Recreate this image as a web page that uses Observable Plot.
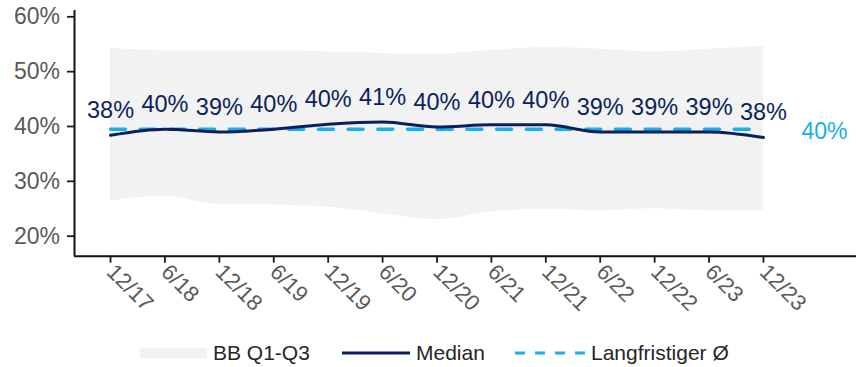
<!DOCTYPE html>
<html>
<head>
<meta charset="utf-8">
<script src="https://cdn.jsdelivr.net/npm/d3@7"></script>
<script src="https://cdn.jsdelivr.net/npm/@observablehq/plot@0.6"></script>
<style>
  html, body { margin: 0; padding: 0; background: #fff; }
  body { width: 856px; height: 367px; position: relative; overflow: hidden; font-family: "Liberation Sans", Arial, sans-serif; }
  #legend { position: absolute; left: 0; top: 336px; height: 34px; width: 856px; }
  .item { position: absolute; top: 0; height: 34px; display: flex; align-items: center; font-size: 21px; color: #262626; white-space: nowrap; }
  .item svg { display: block; margin-right: 6px; }
</style>
</head>
<body>
<div id="chart"></div>
<div id="legend">
  <div class="item" style="left:140px"><svg width="67" height="10"><rect width="67" height="10" fill="#f2f2f2"/></svg>BB Q1-Q3</div>
  <div class="item" style="left:342px"><svg width="68" height="6"><line x1="0" x2="68" y1="3" y2="3" stroke="#0b1f5c" stroke-width="3"/></svg>Median</div>
  <div class="item" style="left:515px"><svg width="70" height="6"><line x1="0" x2="70" y1="3" y2="3" stroke="#1aaeeb" stroke-width="3" stroke-dasharray="10,10"/></svg>Langfristiger Ø</div>
</div>
<script>
// Data
const periods = ["12/17","6/18","12/18","6/19","12/19","6/20","12/20","6/21","12/21","6/22","12/22","6/23","12/23"];
const median  = [38.4, 39.5, 39.0, 39.5, 40.4, 40.8, 39.9, 40.3, 40.3, 39.0, 39.0, 39.0, 38.0];
const q1      = [26.4, 27.3, 25.8, 25.7, 25.3, 24.1, 23.0, 24.4, 24.9, 24.6, 25.0, 24.6, 24.6];
const q3      = [54.2, 53.8, 53.8, 53.8, 53.6, 53.3, 53.2, 53.9, 54.4, 54.1, 53.6, 54.1, 54.6];
const longTermAvg = 39.5;
const yTicks = [20, 30, 40, 50, 60];

const navy = "#0b1f5c";
const cyan = "#1aaeeb";

const data = periods.map((p, i) => ({i, p, median: median[i], q1: q1[i], q3: q3[i], avg: longTermAvg}));

const chart = Plot.plot({
  width: 856,
  height: 336,
  marginLeft: 74,
  marginRight: 0,
  marginTop: 10,
  marginBottom: 80.3,
  style: {fontFamily: "'Liberation Sans', Arial, sans-serif", fontSize: "22px", background: "#fff"},
  x: {type: "linear", domain: [-0.662, 13.71], label: null},
  y: {type: "linear", domain: [16.35, 61.15], label: null},
  marks: [
    Plot.areaY(data, {x: "i", y1: "q1", y2: "q3", fill: "#f2f2f2", curve: "monotone-x"}),
    Plot.lineY(data, {x: "i", y: "avg", stroke: cyan, strokeWidth: 3.4, strokeDasharray: "15,14.7"}),
    Plot.lineY(data, {x: "i", y: "median", stroke: navy, strokeWidth: 3, curve: "monotone-x"}),
    Plot.text(data, {x: "i", y: "median", text: d => Math.round(d.median) + "%", dy: -17, lineAnchor: "bottom", fill: navy, fontSize: 23.5}),
    Plot.text([longTermAvg], {x: periods.length - 1, y: d => d, text: d => Math.round(d) + "%", dx: 38, dy: 2, textAnchor: "start", fill: cyan, fontSize: 23}),
    Plot.axisY({ticks: yTicks, tickFormat: d => d + "%", tickSize: 7, tickPadding: 7.5, stroke: "#1a1a1a", strokeWidth: 1.8, fill: "#595959", fontSize: 23, label: null}),
    Plot.axisX({ticks: periods.map((_, i) => i), tickFormat: i => periods[i], tickSize: 7, tickPadding: 5, tickRotate: 45, stroke: "#1a1a1a", strokeWidth: 1.8, fill: "#595959", fontSize: 22, label: null}),
    Plot.ruleX([-0.662], {stroke: "#111", strokeWidth: 2}),
    Plot.ruleY([16.35], {stroke: "#111", strokeWidth: 2})
  ]
});
document.getElementById("chart").appendChild(chart);
</script>
</body>
</html>
